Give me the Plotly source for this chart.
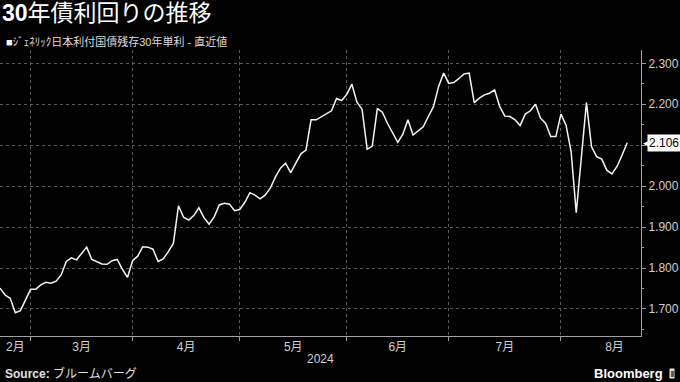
import plotly.graph_objects as go
import pandas as pd

# ---------------- data ----------------
title_text = "30年債利回りの推移"
series_name = "ｼﾞｪﾈﾘｯｸ日本利付国債残存30年単利 - 直近値"
source_text = "ブルームバーグ"
year_label = "2024"

# Japanese market holidays in the period (x axis counts trading days)
holidays = ["2024-02-23", "2024-03-20", "2024-04-29", "2024-05-03",
            "2024-05-06", "2024-07-15", "2024-08-12"]

# 30y JGB yield, one value per trading day from 2024-02-21
yields = [1.751, 1.734, 1.726, 1.691, 1.696, 1.722, 1.748, 1.748, 1.759, 1.765,
          1.763, 1.768, 1.783, 1.816, 1.825, 1.820, 1.836, 1.851, 1.821, 1.816,
          1.810, 1.809, 1.818, 1.821, 1.797, 1.777, 1.818, 1.829, 1.852, 1.851,
          1.846, 1.816, 1.822, 1.840, 1.860, 1.952, 1.924, 1.917, 1.928, 1.947,
          1.923, 1.907, 1.925, 1.954, 1.958, 1.956, 1.940, 1.943, 1.960, 1.984,
          1.978, 1.969, 1.978, 1.995, 2.022, 2.044, 2.056, 2.033, 2.056, 2.079,
          2.088, 2.162, 2.162, 2.170, 2.176, 2.184, 2.214, 2.209, 2.224, 2.249,
          2.205, 2.188, 2.090, 2.098, 2.190, 2.180, 2.153, 2.129, 2.107, 2.127,
          2.162, 2.125, 2.135, 2.145, 2.170, 2.194, 2.243, 2.276, 2.251, 2.253,
          2.263, 2.274, 2.276, 2.204, 2.215, 2.223, 2.227, 2.235, 2.194, 2.171,
          2.170, 2.162, 2.148, 2.176, 2.184, 2.200, 2.166, 2.153, 2.121, 2.121,
          2.176, 2.149, 2.084, 1.935, 2.070, 2.204, 2.096, 2.072, 2.066, 2.039,
          2.030, 2.048, 2.076, 2.106]

month_labels = ["2月", "3月", "4月", "5月", "6月", "7月", "8月"]
y_ticks = [1.7, 1.8, 1.9, 2.0, 2.1, 2.2, 2.3]
y_minor = [1.65, 1.75, 1.85, 1.95, 2.05, 2.15, 2.25]

# ---------------- trading-day axis ----------------
days = [d for d in pd.bdate_range("2024-02-21", "2024-08-30")
        if d.strftime("%Y-%m-%d") not in holidays]
x = list(range(len(yields)))
months = [d.month for d in days]
starts = [i for i in range(1, len(days)) if months[i] != months[i - 1]]
bounds = [0] + starts + [len(days)]
centers = [(bounds[k] + bounds[k + 1]) / 2 for k in range(len(bounds) - 1)]

last = yields[-1]
# the tick label hidden behind the last-value box is left blank
y_ticktext = ["" if abs(v - last) < 0.03 else f"{v:.3f}" for v in y_ticks]

FONT = "Liberation Sans, Noto Sans CJK JP, sans-serif"
GRID = "#5a5a5a"
AXIS = "#a0a0a0"
TXT = "#d0d0d0"

fig = go.Figure()
fig.add_trace(go.Scatter(
    x=x, y=yields, mode="lines",
    line=dict(color="#f4f4f4", width=1.5),
    hoverinfo="skip", showlegend=False,
))

fig.update_layout(
    width=680, height=382,
    margin=dict(l=0, r=39, t=50, b=46),
    paper_bgcolor="#000000", plot_bgcolor="#000000",
    font=dict(family=FONT, color=TXT, size=12),
    showlegend=False,
    xaxis=dict(
        range=[0, 125.7],
        tickvals=centers, ticktext=month_labels,
        ticks="", showgrid=False, zeroline=False,
        showline=True, linecolor=AXIS, linewidth=1,
        tickfont=dict(size=12, color=TXT),
        minor=dict(tickvals=starts, ticks="outside", ticklen=4,
                   tickcolor=AXIS, showgrid=True, gridcolor=GRID,
                   griddash="dot", gridwidth=1),
        fixedrange=True,
    ),
    yaxis=dict(
        side="right", range=[1.634, 2.3325],
        tickvals=y_ticks, ticktext=y_ticktext,
        ticks="outside", ticklen=4, tickcolor=AXIS,
        showline=True, linecolor=AXIS, linewidth=1,
        showgrid=True, gridcolor=GRID, griddash="dot", gridwidth=1,
        zeroline=False,
        tickfont=dict(size=12, color=TXT),
        minor=dict(tickvals=y_minor, ticks="outside", ticklen=2,
                   tickcolor=AXIS, showgrid=False),
        fixedrange=True,
    ),
)

ann = []
ann.append(dict(xref="paper", yref="paper", x=0, y=1.128, xshift=0,
                xanchor="left", yanchor="middle", showarrow=False,
                text="<b>" + title_text[:2] + "</b>" + title_text[2:],
                font=dict(size=23, color="#ffffff",
                          family="Liberation Sans, Noto Sans CJK JP")))
ann.append(dict(xref="paper", yref="paper", x=0, y=1.031, xshift=4,
                xanchor="left", yanchor="middle", showarrow=False,
                text="<span style='color:#ffffff'>■</span>" + series_name,
                font=dict(size=11, color="#dcdcdc")))
ann.append(dict(xref="paper", yref="paper", x=0.5, y=-0.08,
                xanchor="center", yanchor="middle", showarrow=False,
                text=year_label, font=dict(size=12, color=TXT)))
ann.append(dict(xref="paper", yref="paper", x=0, y=-0.131, xshift=3,
                xanchor="left", yanchor="middle", showarrow=False,
                text="<b>Source:</b> " + source_text,
                font=dict(size=12, color="#e0e0e0")))
ann.append(dict(xref="paper", yref="paper", x=1.037, y=-0.131,
                xanchor="right", yanchor="middle", showarrow=False,
                text="<b>Bloomberg</b>",
                font=dict(size=13, color="#ffffff")))
ann.append(dict(xref="paper", yref="paper", x=1.043, y=-0.131,
                xanchor="left", yanchor="middle", showarrow=False,
                text="▮", bgcolor="#e6e6e6", borderpad=0,
                font=dict(size=8, color="#555555", family="DejaVu Sans")))
# last-value marker on the axis
ann.append(dict(xref="paper", yref="y", x=1, y=last, xshift=0,
                xanchor="left", yanchor="middle", showarrow=False,
                text="◀", font=dict(size=9, color="#ffffff",
                                    family="DejaVu Sans")))
ann.append(dict(xref="paper", yref="y", x=1, y=last, xshift=6,
                xanchor="left", yanchor="middle", showarrow=False,
                text=f"{last:.3f}", bgcolor="#ffffff", borderpad=1,
                font=dict(size=12, color="#000000")))
fig.update_layout(annotations=ann)

fig.write_html("out.html")
